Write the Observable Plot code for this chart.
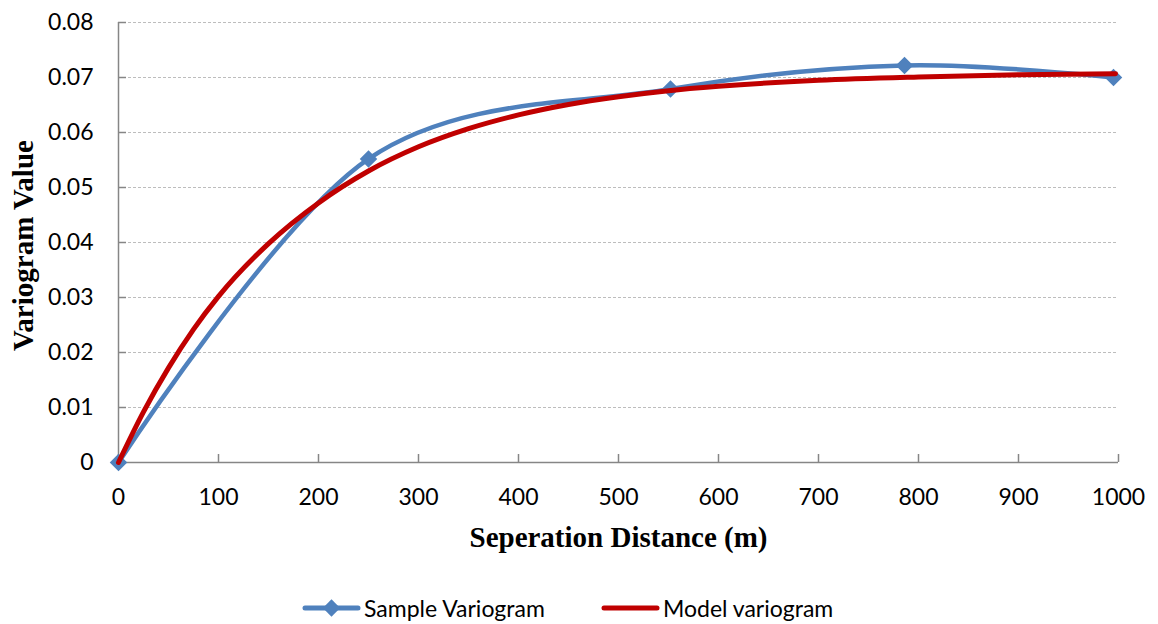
<!DOCTYPE html>
<html>
<head>
<meta charset="utf-8">
<script src="https://cdn.jsdelivr.net/npm/d3@7"></script>
<script src="https://cdn.jsdelivr.net/npm/@observablehq/plot@0.6"></script>
<style>
  html, body { margin: 0; padding: 0; background: #fff; }
  #wrap { position: relative; width: 1158px; height: 624px; }
  #legend { position: absolute; left: 0; top: 592px; width: 1158px; height: 32px; font-family: Lato, "Open Sans", sans-serif; font-size: 23px; color: #000; }
  #legend .item { position: absolute; top: 0; height: 32px; display: flex; align-items: center; }
  #legend svg { display: block; }
</style>
</head>
<body>
<div id="wrap">
  <div id="chart"></div>
  <div id="legend"></div>
</div>
<script>
// Sample variogram (experimental points)
const sampleDist = [0, 250, 552, 786, 995];
const sampleGamma = [0, 0.0552, 0.0679, 0.0722, 0.0700];

// Model variogram
const modelDist = [0, 25, 50, 75, 100, 150, 200, 250, 300, 350, 400, 450, 500, 550, 600, 700, 800, 900, 997];
const modelGamma = [0, 0.0092, 0.0172, 0.0242, 0.0302, 0.0398, 0.0472, 0.0530, 0.0574, 0.0607, 0.0632, 0.0651, 0.0665, 0.0676, 0.0684, 0.0695, 0.0701, 0.0705, 0.0707];

// Tick values
const xTicks = [0, 100, 200, 300, 400, 500, 600, 700, 800, 900, 1000];
const yTicks = [0, 0.01, 0.02, 0.03, 0.04, 0.05, 0.06, 0.07, 0.08];

const seriesNames = ["Sample Variogram", "Model variogram"];
const xTitle = "Seperation Distance (m)";
const yTitle = "Variogram Value";

const sample = sampleDist.map((d, i) => ({x: d, y: sampleGamma[i]}));
const model = modelDist.map((d, i) => ({x: d, y: modelGamma[i]}));

const BLUE = "#4f81bd", RED = "#c00000", AXIS = "#868686";

const chart = Plot.plot({
  width: 1158,
  height: 624,
  marginLeft: 118,
  marginRight: 40,
  marginTop: 22,
  marginBottom: 162,
  x: {domain: [0, 1000]},
  y: {domain: [0, 0.08]},
  style: {fontFamily: "Lato, 'Open Sans', sans-serif", fontSize: "23px", color: "#000", background: "#fff", overflow: "visible"},
  marks: [
    Plot.gridY(yTicks.slice(1), {stroke: "#bdbdbd", strokeOpacity: 1, strokeWidth: 1, strokeDasharray: "3,2"}),
    Plot.axisY(yTicks, {anchor: "left", tickSize: -8, tickPadding: 33, stroke: AXIS, strokeWidth: 1.5, fill: "#000", label: null, fontSize: 23,
      tickFormat: d => d === 0 ? "0" : d.toFixed(2)}),
    Plot.axisX(xTicks, {anchor: "bottom", tickSize: -8, tickPadding: 34, stroke: AXIS, strokeWidth: 1.5, fill: "#000", label: null, fontSize: 23,
      tickFormat: d => String(d)}),
    Plot.ruleX([0], {stroke: AXIS, strokeWidth: 1.5}),
    Plot.ruleY([0], {stroke: AXIS, strokeWidth: 1.5}),
    Plot.line(sample, {x: "x", y: "y", curve: "cardinal", tension: 0, stroke: BLUE, strokeWidth: 4.5, strokeLinecap: "round", strokeLinejoin: "round"}),
    Plot.dot(sample, {x: "x", y: "y", symbol: "diamond2", r: 7.9, fill: BLUE, stroke: "none"}),
    Plot.line(model, {x: "x", y: "y", curve: "monotone-x", stroke: RED, strokeWidth: 5, strokeLinecap: "round", strokeLinejoin: "round"}),
    Plot.text([xTitle], {frameAnchor: "bottom", lineAnchor: "middle", dy: 75, fontSize: 29, fontWeight: "bold",
      fontFamily: "'Liberation Serif', 'Times New Roman', serif", fill: "#000"}),
    Plot.text([yTitle], {frameAnchor: "left", textAnchor: "middle", lineAnchor: "middle", rotate: -90, dx: -95, dy: 3, fontSize: 29, fontWeight: "bold",
      fontFamily: "'Liberation Serif', 'Times New Roman', serif", fill: "#000"})
  ]
});
document.getElementById("chart").appendChild(chart);

// Legend
const legend = document.getElementById("legend");
function addItem(left, name, color, marker) {
  const item = document.createElement("div");
  item.className = "item";
  item.style.left = left + "px";
  const svg = d3.create("svg").attr("width", 60).attr("height", 32);
  svg.append("line").attr("x1", 3).attr("x2", 56).attr("y1", 16).attr("y2", 16)
    .attr("stroke", color).attr("stroke-width", 5).attr("stroke-linecap", "round");
  if (marker) {
    svg.append("path").attr("d", d3.symbol(d3.symbolDiamond2, 190)()).attr("transform", "translate(29.5,16)").attr("fill", color);
  }
  item.appendChild(svg.node());
  const span = document.createElement("span");
  span.textContent = name;
  span.style.marginLeft = "2px";
  item.appendChild(span);
  legend.appendChild(item);
}
addItem(302, seriesNames[0], BLUE, true);
addItem(601, seriesNames[1], RED, false);
</script>
</body>
</html>
